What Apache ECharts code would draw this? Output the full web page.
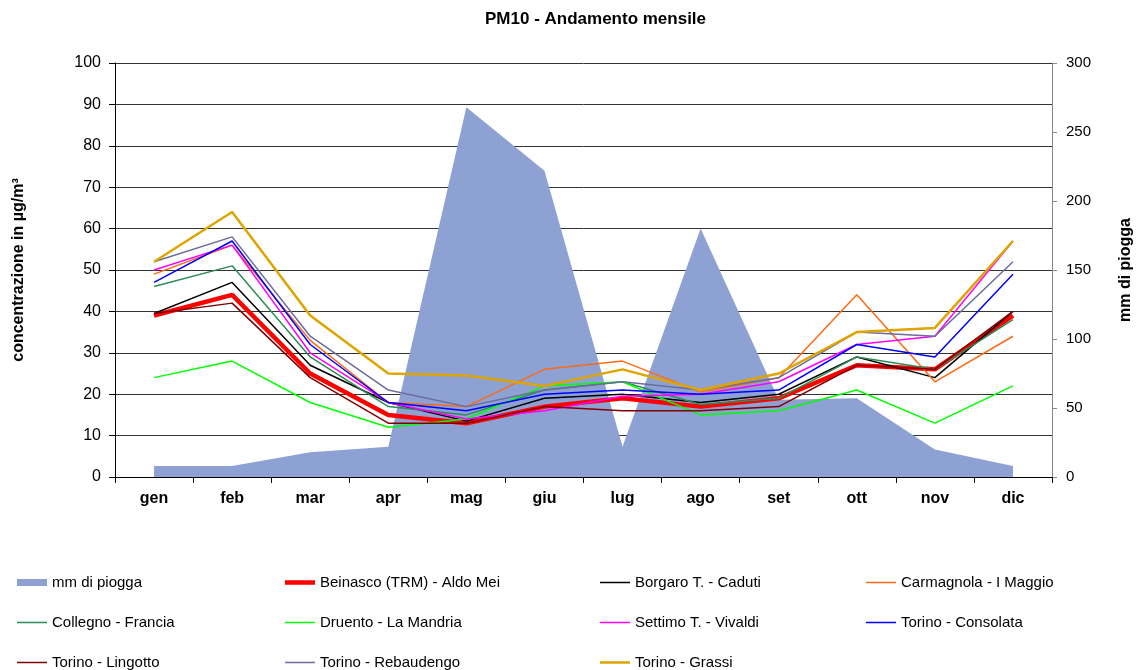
<!DOCTYPE html>
<html>
<head>
<meta charset="utf-8">
<script src="https://cdn.jsdelivr.net/npm/echarts@6/dist/echarts.min.js"></script>
<style>
  html, body { margin: 0; padding: 0; background: #fff; }
  #main { width: 1137px; height: 670px; }
</style>
</head>
<body>
<div id="main"></div>
<script>
// mesi e pioggia (asse destro)
const mesi = ['gen', 'feb', 'mar', 'apr', 'mag', 'giu', 'lug', 'ago', 'set', 'ott', 'nov', 'dic'];
const pioggia = [8, 8, 18, 22, 268, 222, 22, 180, 56, 57, 20, 8];

// PM10 per stazione (µg/m³)
const beinasco   = [39, 44, 25, 15, 13, 17, 19, 17, 19, 27, 26, 39];
const borgaro    = [39.5, 47, 27, 18, 13.5, 19, 20, 18, 20, 29, 24, 40];
const carmagnola = [49, 56, 33, 18, 17, 26, 28, 20.5, 24, 44, 23, 34];
const collegno   = [46, 51, 29, 17, 15, 21, 23, 17.5, 19, 29, 26, 38];
const druento    = [24, 28, 18, 12, 14, 22, 23, 15, 16, 21, 13, 22];
const settimo    = [50, 56, 30, 18, 14, 16, 19.5, 20, 23, 32, 34, 57];
const consolata  = [47, 57, 32, 18, 16, 20, 21, 20, 21, 32, 29, 49];
const lingotto   = [39.5, 42, 24, 13, 13, 17, 16, 16, 17, 27, 26, 40];
const rebaudengo = [52, 58, 34, 21, 17, 21, 23, 21, 24, 35, 34, 52];
const grassi     = [52, 64, 39, 25, 24.5, 22, 26, 21, 25, 35, 36, 57];

const yTicksLeft = [0, 100, 10];
const yTicksRight = [0, 300, 50];

const FONT = 'Liberation Sans, Arial, sans-serif';

// icone della legenda: barra orizzontale di spessore dato
function barra(h) {
  return 'path://M0,0h30v' + h + 'h-30z';
}

function linea(name, data, color, width) {
  return {
    name: name,
    type: 'line',
    data: data,
    symbol: 'none',
    lineStyle: { color: color, width: width },
    itemStyle: { color: color },
    emphasis: { disabled: true },
    animation: false
  };
}

const legendaBase = {
  orient: 'vertical',
  padding: 0,
  itemWidth: 30,
  itemHeight: 14,
  itemGap: 25,
  textStyle: { fontFamily: FONT, fontSize: 15, color: '#000' },
  selectedMode: false
};

function voce(name, h) {
  return { name: name, icon: barra(h) };
}

const option = {
  backgroundColor: '#fff',
  textStyle: { fontFamily: FONT },
  title: {
    text: 'PM10 - Andamento mensile',
    left: 480,
    top: 6,
    textStyle: { fontFamily: FONT, fontSize: 17, fontWeight: 'bold', color: '#000' }
  },
  grid: { left: 115, right: 85, top: 63, bottom: 193, containLabel: false, outerBoundsMode: 'none' },
  legend: [
    Object.assign({}, legendaBase, { left: 17, top: 575,
      data: [voce('mm di piogga', 7), voce('Collegno - Francia', 1.5), voce('Torino - Lingotto', 1.5)] }),
    Object.assign({}, legendaBase, { left: 285, top: 575,
      data: [voce('Beinasco (TRM) - Aldo Mei', 4.5), voce('Druento - La Mandria', 1.5), voce('Torino - Rebaudengo', 1.5)] }),
    Object.assign({}, legendaBase, { left: 600, top: 575,
      data: [voce('Borgaro T. - Caduti', 1.5), voce('Settimo T. - Vivaldi', 1.5), voce('Torino - Grassi', 2.5)] }),
    Object.assign({}, legendaBase, { left: 866, top: 575,
      data: [voce('Carmagnola - I Maggio', 1.5), voce('Torino - Consolata', 1.5)] })
  ],
  xAxis: {
    type: 'category',
    data: mesi,
    boundaryGap: true,
    axisLine: { lineStyle: { color: '#000', width: 1 } },
    axisTick: { show: true, length: 6, lineStyle: { color: '#000' } },
    axisLabel: { margin: 14, fontFamily: FONT, fontSize: 16, fontWeight: 'bold', color: '#000' }
  },
  yAxis: [
    {
      type: 'value',
      min: yTicksLeft[0],
      max: yTicksLeft[1],
      interval: yTicksLeft[2],
      name: 'concentrazione in µg/m³',
      nameLocation: 'middle',
      nameRotate: 90,
      nameGap: 88,
      nameTextStyle: { fontFamily: FONT, fontSize: 16, fontWeight: 'bold', color: '#000' },
      axisLine: { show: true, lineStyle: { color: '#000', width: 1 } },
      axisTick: { show: true, length: 6, lineStyle: { color: '#000' } },
      axisLabel: { margin: 14, fontFamily: FONT, fontSize: 16, color: '#000' },
      splitLine: { show: true, lineStyle: { color: '#333', width: 1 } }
    },
    {
      type: 'value',
      min: yTicksRight[0],
      max: yTicksRight[1],
      interval: yTicksRight[2],
      position: 'right',
      name: 'mm di piogga',
      nameLocation: 'middle',
      nameRotate: 90,
      nameGap: 66,
      nameTextStyle: { fontFamily: FONT, fontSize: 16, fontWeight: 'bold', color: '#000' },
      axisLine: { show: true, lineStyle: { color: '#888', width: 1 } },
      axisTick: { show: true, length: 5, lineStyle: { color: '#888' } },
      axisLabel: { margin: 14, fontFamily: FONT, fontSize: 15, color: '#000' },
      splitLine: { show: false }
    }
  ],
  series: [
    {
      name: 'mm di piogga',
      type: 'line',
      yAxisIndex: 1,
      data: pioggia,
      symbol: 'none',
      lineStyle: { width: 0, color: '#8ea1d3' },
      itemStyle: { color: '#8ea1d3' },
      areaStyle: { color: '#8ea1d3', opacity: 1 },
      emphasis: { disabled: true },
      animation: false,
      z: 1
    },
    linea('Beinasco (TRM) - Aldo Mei', beinasco, '#ff0000', 4.5),
    linea('Borgaro T. - Caduti', borgaro, '#000000', 1.5),
    linea('Carmagnola - I Maggio', carmagnola, '#ff6a13', 1.5),
    linea('Collegno - Francia', collegno, '#2e8b57', 1.5),
    linea('Druento - La Mandria', druento, '#00ff00', 1.5),
    linea('Settimo T. - Vivaldi', settimo, '#ff00ff', 1.5),
    linea('Torino - Consolata', consolata, '#0000ff', 1.5),
    linea('Torino - Lingotto', lingotto, '#800000', 1.5),
    linea('Torino - Rebaudengo', rebaudengo, '#6b6b9e', 1.5),
    linea('Torino - Grassi', grassi, '#dea500', 2.5)
  ]
};

const chart = echarts.init(document.getElementById('main'), null, { renderer: 'canvas' });
chart.setOption(option);
</script>
</body>
</html>
